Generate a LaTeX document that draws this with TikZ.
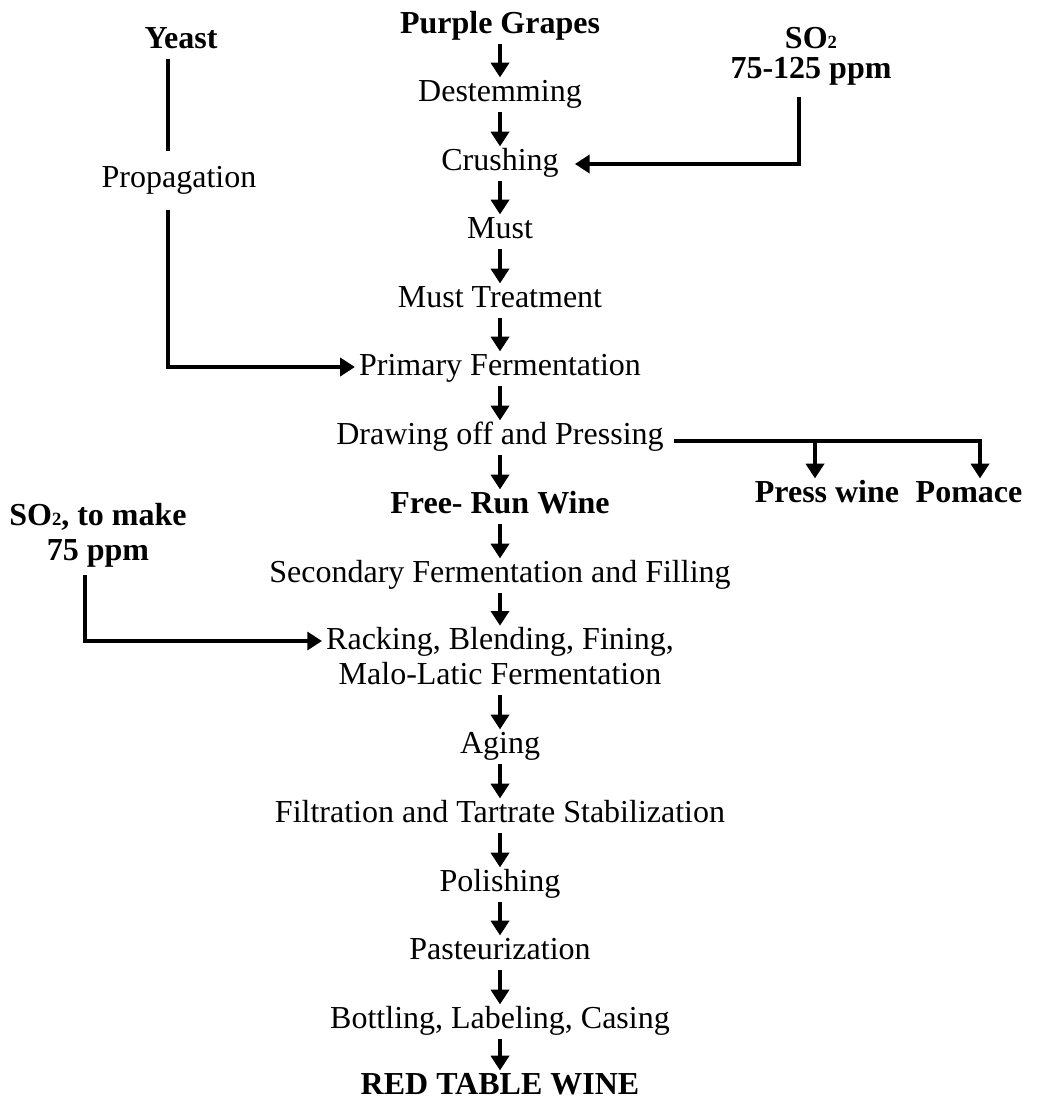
\documentclass[tikz,border=0pt]{standalone}
\usepackage{fontspec}
\setmainfont{Liberation Serif}
\usetikzlibrary{arrows.meta}
\newcommand{\sotwo}{SO{\fontsize{14pt}{14pt}\selectfont 2}}

\begin{document}
\begin{tikzpicture}[x=0.75pt, y=-0.75pt,
    font=\fontsize{24pt}{22.5pt}\selectfont,
    stepbox/.style={inner xsep=3pt, inner ysep=1pt, text height=16.5pt, text depth=7pt, anchor=base},
    title/.style={stepbox, font=\fontsize{24pt}{22.5pt}\selectfont\bfseries},
    twoline/.style={inner xsep=3pt, inner ysep=1pt, align=center, anchor=base},
    sidebox/.style={twoline, inner ysep=7pt, font=\fontsize{24pt}{22.5pt}\selectfont\bfseries},
    wire/.style={line width=2.6pt},
    flow/.style={wire, -{Triangle[width=13.5pt, length=11pt]}}]
    \useasboundingbox (0,0) rectangle (1037,1100);

    % main column
    \node[title] (grapes) at (500,33) {Purple Grapes};
    \node[stepbox] (destem) at (500,101) {Destemming};
    \node[stepbox] (crush) at (500,170) {Crushing};
    \node[stepbox] (must) at (500,238) {Must};
    \node[stepbox] (mtreat) at (500,307) {Must Treatment};
    \node[stepbox] (primary) at (500,375) {Primary Fermentation};
    \node[stepbox] (dop) at (500,444) {Drawing off and Pressing};
    \node[title] (freerun) at (500,513) {Free- Run Wine};
    \node[stepbox] (second) at (500,582) {Secondary Fermentation and Filling};
    \node[twoline] (racking) at (500,684) {\strut Racking, Blending, Fining,\\[1.5pt]Malo-Latic Fermentation\strut};
    \node[stepbox] (aging) at (500,753) {Aging};
    \node[stepbox] (filtr) at (500,822) {Filtration and Tartrate Stabilization};
    \node[stepbox] (polish) at (500,891) {Polishing};
    \node[stepbox] (pasteur) at (500,959) {Pasteurization};
    \node[stepbox] (bottle) at (500,1028) {Bottling, Labeling, Casing};
    \node[title] (redwine) at (500,1094) {RED TABLE WINE};

    % side inputs and outputs
    \node[title] (yeast) at (181,48) {Yeast};
    \node[stepbox, inner ysep=10pt] (prop) at (179,187) {Propagation};
    \node[sidebox] (so2a) at (811,78) {\sotwo\\75-125 ppm\strut};
    \node[sidebox, inner ysep=4pt] (so2b) at (98,560) {\sotwo, to make\\[3.75pt]75 ppm\strut};
    \node[title] (press) at (827,502) {Press wine};
    \node[title] (pomace) at (969,502) {Pomace};

    \coordinate (ybend) at (168,367);
    \coordinate (cbend) at (799,164);
    \coordinate (sbend) at (85,641);
    \coordinate (pbend) at (980,441);
    \coordinate (wbend) at (815,441);

    \draw[flow] (grapes.south) -- (destem.north);
    \draw[flow] (destem.south) -- (crush.north);
    \draw[flow] (crush.south) -- (must.north);
    \draw[flow] (must.south) -- (mtreat.north);
    \draw[flow] (mtreat.south) -- (primary.north);
    \draw[flow] (primary.south) -- (dop.north);
    \draw[flow] (dop.south) -- (freerun.north);
    \draw[flow] (freerun.south) -- (second.north);
    \draw[flow] (second.south) -- (racking.north);
    \draw[flow] (racking.south) -- (aging.north);
    \draw[flow] (aging.south) -- (filtr.north);
    \draw[flow] (filtr.south) -- (polish.north);
    \draw[flow] (polish.south) -- (pasteur.north);
    \draw[flow] (pasteur.south) -- (bottle.north);
    \draw[flow] (bottle.south) -- (redwine.north);

    \draw[wire] (yeast.south -| ybend) -- (prop.north -| ybend);
    \draw[flow] (prop.south -| ybend) |- (ybend -| primary.west);
    \draw[flow, shorten >=9pt] (so2a.south -| cbend) |- (cbend -| crush.east);
    \draw[flow] (so2b.south -| sbend) |- (sbend -| racking.west);
    \draw[flow, shorten <=4.5pt] (dop.east |- pbend) -| (pomace.north -| pbend);
    \draw[flow] (wbend) -- (press.north -| wbend);
\end{tikzpicture}
\end{document}
